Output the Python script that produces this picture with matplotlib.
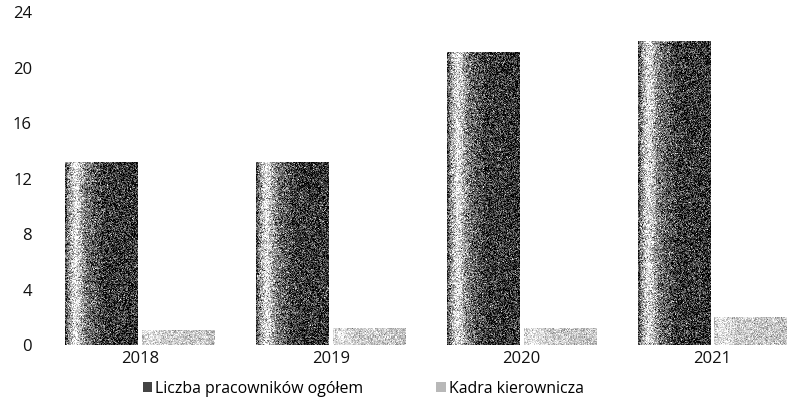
import numpy as np
import matplotlib
matplotlib.use("Agg")
from matplotlib import pyplot as plt

plt.rcParams['font.family'] = ['Open Sans', 'DejaVu Sans']

years = ["2018", "2019", "2020", "2021"]
total_staff = [13.2, 13.2, 21.1, 21.9]
management = [1.1, 1.2, 1.2, 2.0]
series_names = ["Liczba pracowników ogółem", "Kadra kierownicza"]

rng = np.random.default_rng(3)


def shade_bar(ax, bar, profile, noise):
    # grainy horizontal shading, clipped to the bar rectangle
    x0, y0 = bar.get_x(), bar.get_y()
    w, h = bar.get_width(), bar.get_height()
    cols = 80
    rows = max(int(h * 14), 4)
    t = np.linspace(0, 1, cols)
    base = np.interp(t, profile[0], profile[1])
    img = np.tile(base, (rows, 1)) + rng.normal(0, noise, (rows, cols))
    img = np.clip(img, 0, 1)
    im = ax.imshow(img, cmap="gray", vmin=0, vmax=1, aspect="auto",
                   extent=(x0, x0 + w, y0, y0 + h), interpolation="nearest",
                   zorder=3)
    im.set_clip_path(bar)


fig = plt.figure(figsize=(7.87, 4.15), dpi=100)
ax = fig.add_axes([50 / 787, 70 / 415, 737 / 787, 333 / 415])

x = np.arange(len(years))
width = 0.38
gap = 0.01
dark = ax.bar(x - width / 2 - gap, total_staff, width, color="#444444",
              label=series_names[0], zorder=2)
light = ax.bar(x + width / 2 + gap, management, width, color="#b8b8b8",
               label=series_names[1], zorder=2)

dark_profile = ([0, 0.04, 0.14, 0.3, 0.55, 1], [0.25, 0.55, 0.92, 0.45, 0.22, 0.2])
light_profile = ([0, 0.1, 0.3, 1], [0.8, 0.92, 0.8, 0.76])
for b in dark:
    shade_bar(ax, b, dark_profile, 0.22)
for b in light:
    shade_bar(ax, b, light_profile, 0.12)

ax.set_xlim(-0.47, 3.39)
ax.set_ylim(0, 24)
ax.set_yticks(range(0, 25, 4))
ax.set_xticks(x)
ax.set_xticklabels(years)
for s in ax.spines.values():
    s.set_visible(False)
ax.tick_params(axis="both", length=0, labelsize=12, colors="#111111")
ax.tick_params(axis="y", pad=13)
ax.tick_params(axis="x", pad=4)
ax.axhline(0, color="#777777", lw=0.6, ls=(0, (1, 6)), zorder=1)

ax.legend(loc="center", bbox_to_anchor=(0.425, -0.132), ncol=2, frameon=False,
          fontsize=11.4, handlelength=0.6, handleheight=0.6, handletextpad=0.2,
          columnspacing=4.6, borderaxespad=0)

fig.savefig("out.png", dpi=100)
